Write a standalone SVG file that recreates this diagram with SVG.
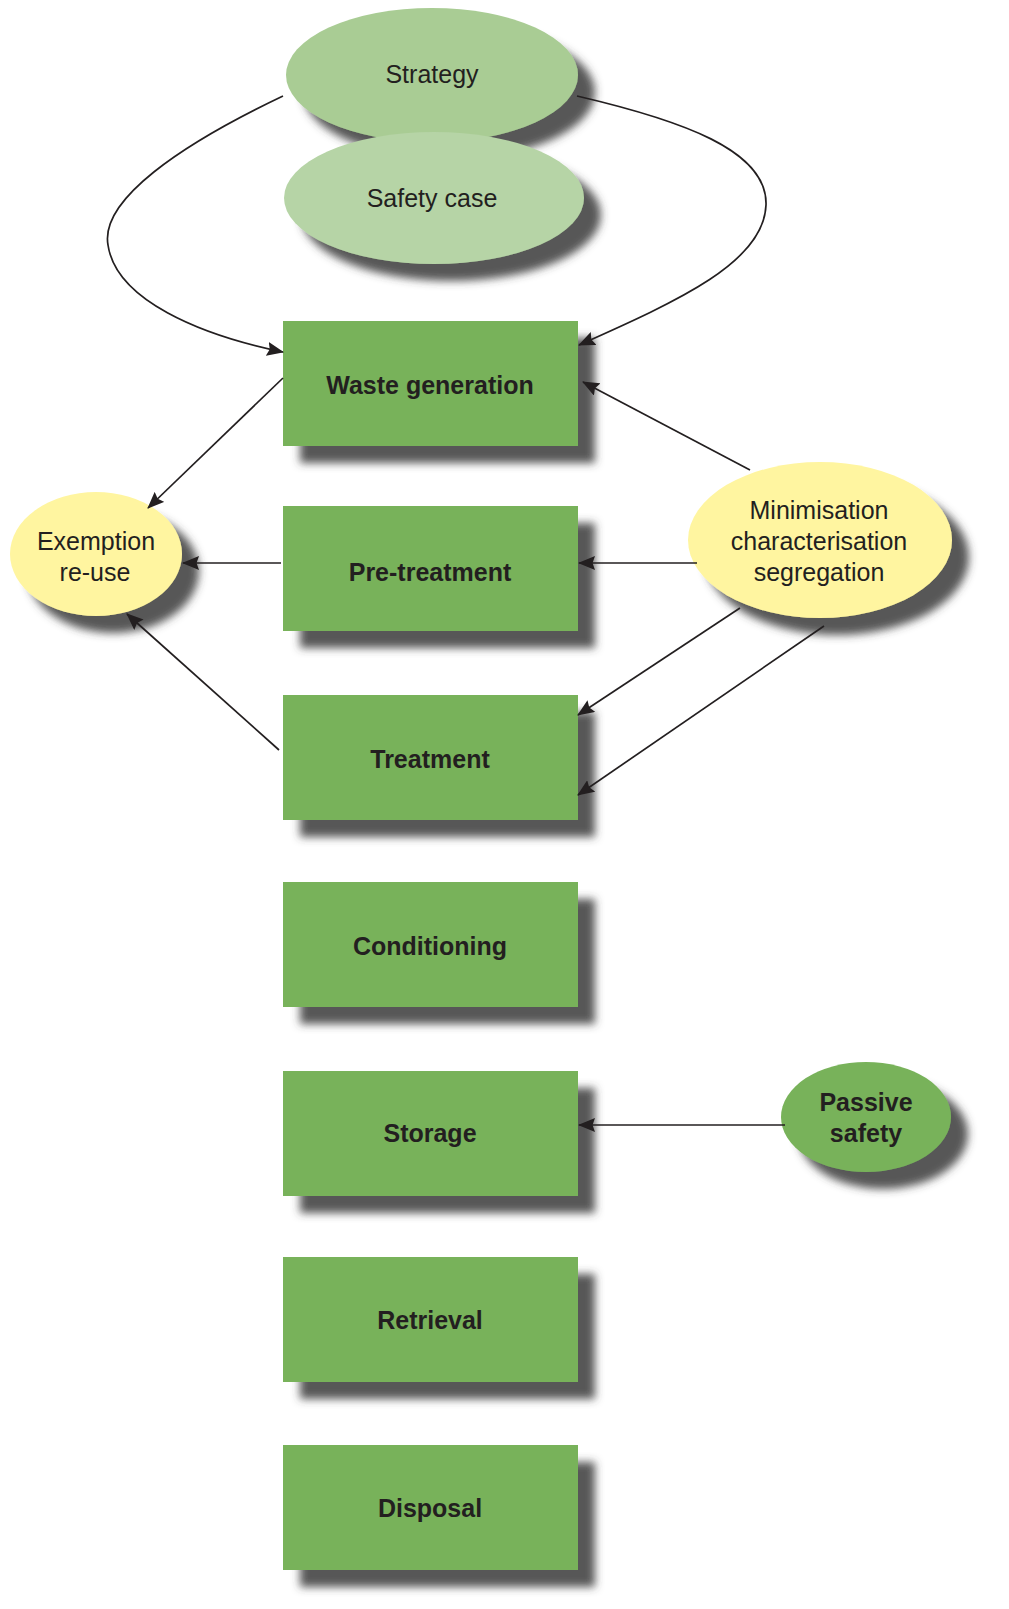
<svg xmlns="http://www.w3.org/2000/svg" width="1009" height="1609" viewBox="0 0 1009 1609">
<style>
.box{fill:#78b25a;filter:url(#sh)}
.bl{font-family:"Liberation Sans",Arial,sans-serif;font-weight:bold;font-size:25px;fill:#231f20;text-anchor:middle}
.lb{font-family:"Liberation Sans",Arial,sans-serif;font-size:25px;fill:#231f20;text-anchor:middle}
.ln{fill:none;stroke:#231f20;stroke-width:1.7;marker-end:url(#ah)}
</style>
<defs>
<filter id="sh" x="-20%" y="-20%" width="150%" height="150%">
<feGaussianBlur in="SourceAlpha" stdDeviation="4" result="b"/>
<feOffset in="b" dx="17" dy="17" result="o"/>
<feFlood flood-color="#3a3a3a" flood-opacity="0.85"/>
<feComposite in2="o" operator="in" result="s"/>
<feMerge><feMergeNode in="s"/><feMergeNode in="SourceGraphic"/></feMerge>
</filter>
<marker id="ah" viewBox="0 0 17 14" refX="16" refY="7" markerWidth="17" markerHeight="14" markerUnits="userSpaceOnUse" orient="auto">
<path d="M0,0 L17,7 L0,14 L2.5,7 Z" fill="#231f20"/>
</marker>
</defs>
<rect width="1009" height="1609" fill="#ffffff"/>
<g id="strategy"><ellipse cx="432" cy="75" rx="146" ry="67" fill="#a9cc94" filter="url(#sh)"/><text class="lb" x="432" y="83">Strategy</text></g>
<g id="safety-case"><ellipse cx="434" cy="198" rx="150" ry="66" fill="#b6d4a6" filter="url(#sh)"/><text class="lb" x="432" y="207">Safety case</text></g>
<g id="waste-generation"><rect class="box" x="283" y="321" width="295" height="125"/><text class="bl" x="430" y="394">Waste generation</text></g>
<g id="pre-treatment"><rect class="box" x="283" y="506" width="295" height="125"/><text class="bl" x="430" y="581">Pre-treatment</text></g>
<g id="treatment"><rect class="box" x="283" y="695" width="295" height="125"/><text class="bl" x="430" y="768">Treatment</text></g>
<g id="conditioning"><rect class="box" x="283" y="882" width="295" height="125"/><text class="bl" x="430" y="955">Conditioning</text></g>
<g id="storage"><rect class="box" x="283" y="1071" width="295" height="125"/><text class="bl" x="430" y="1142">Storage</text></g>
<g id="retrieval"><rect class="box" x="283" y="1257" width="295" height="125"/><text class="bl" x="430" y="1329">Retrieval</text></g>
<g id="disposal"><rect class="box" x="283" y="1445" width="295" height="125"/><text class="bl" x="430" y="1517">Disposal</text></g>
<g id="exemption"><ellipse cx="96" cy="554" rx="86" ry="62" fill="#fff5a0" filter="url(#sh)"/><text class="lb" x="96" y="550">Exemption</text><text class="lb" x="95" y="581">re-use</text></g>
<g id="minimisation"><ellipse cx="820" cy="540" rx="132" ry="78" fill="#fff5a0" filter="url(#sh)"/><text class="lb" x="819" y="519">Minimisation</text><text class="lb" x="819" y="550">characterisation</text><text class="lb" x="819" y="581">segregation</text></g>
<g id="passive-safety"><ellipse cx="866" cy="1117" rx="85" ry="55" fill="#78b25a" filter="url(#sh)"/><text class="bl" x="866" y="1111">Passive</text><text class="bl" x="866" y="1142">safety</text></g>
<g id="connectors">
<path class="ln" d="M283,96 C180,145 100,200 108,245 C116,300 200,335 283,352"/>
<path class="ln" d="M577,96 C680,120 768,150 766,205 C764,262 680,300 579,345"/>
<path class="ln" d="M283,378 L148,508"/>
<path class="ln" d="M750,470 L583,382"/>
<path class="ln" d="M281,563 L183,563"/>
<path class="ln" d="M697,563 L579,563"/>
<path class="ln" d="M279,750 L127,614"/>
<path class="ln" d="M740,608 L578,715"/>
<path class="ln" d="M824,626 L578,795"/>
<path class="ln" d="M785,1125 L579,1125"/>
</g>
</svg>
